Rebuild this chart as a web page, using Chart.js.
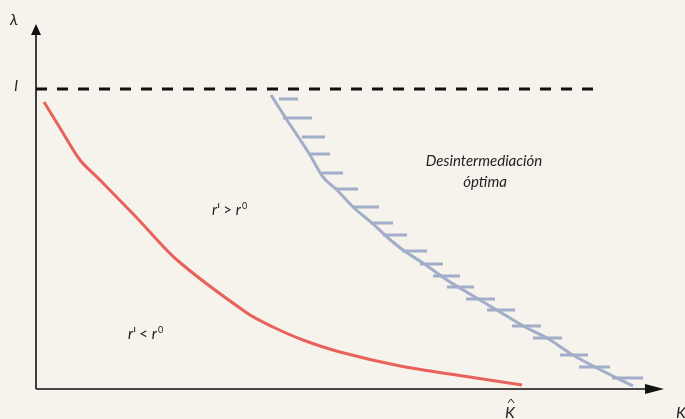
<!DOCTYPE html>
<html>
<head>
<meta charset="utf-8">
<script src="https://cdn.jsdelivr.net/npm/chart.js@4.4.1/dist/chart.umd.min.js"></script>
<style>
    html, body { margin: 0; padding: 0; background: #f6f3ec; }
    #wrap { width: 685px; height: 419px; }
</style>
</head>
<body>
<div id="wrap"><canvas id="chart" width="685" height="419"></canvas></div>
<script>
(function() {
    'use strict';

    // Curve values in axis units (origin at the axes corner, K to the right, lambda upward)
    var redK      = [8, 24, 44, 64, 101, 141, 211, 237, 267, 304, 364, 414, 486];
    var redLambda = [287, 261, 229, 209, 171, 129, 76, 62, 49, 37, 23, 15, 4];

    var blueK      = [235, 249, 274, 287, 301, 317, 336, 351, 367, 387, 411, 439, 464, 489, 511, 537, 561, 597];
    var blueLambda = [294, 272, 234, 212, 199, 182, 166, 152, 139, 126, 109, 92, 77, 62, 51, 34, 21, 3];

    // Hatch marks on the blue frontier: height, start and end
    var hatchLambda = [290, 271, 252, 235, 216, 200, 182, 166, 154, 138, 125, 113, 102, 90, 79, 63, 51, 34, 22, 11];
    var hatchFrom   = [243, 247, 266, 274, 286, 299, 317, 334, 347, 366, 384, 397, 411, 430, 451, 476, 497, 524, 543, 576];
    var hatchTo     = [262, 276, 289, 294, 307, 322, 343, 357, 371, 391, 407, 424, 438, 459, 479, 505, 526, 552, 574, 607];

    var limitLambda = 300;   // the dashed "l" level
    var limitEnd = 564;
    var kHat = 474;

    var hatchData = [];
    hatchLambda.forEach(function(y, i) {
        hatchData.push({ x: hatchFrom[i], y: y });
        hatchData.push({ x: hatchTo[i], y: y });
        hatchData.push({ x: hatchTo[i], y: null });
    });

    function pairs(xs, ys) {
        return xs.map(function(x, i) { return { x: x, y: ys[i] }; });
    }

    var ink = '#111111';
    var font = 'Lato, "Noto Sans", sans-serif';

    var decor = {
        id: 'decor',
        afterDatasetsDraw: function(chart) {
            var ctx = chart.ctx;
            var sx = chart.scales.x, sy = chart.scales.y;
            var ox = sx.getPixelForValue(0), oy = sy.getPixelForValue(0);

            ctx.save();
            // axes
            ctx.strokeStyle = ink;
            ctx.lineWidth = 1.6;
            ctx.beginPath();
            ctx.moveTo(ox, oy);
            ctx.lineTo(ox, 32);
            ctx.moveTo(ox, oy);
            ctx.lineTo(650, oy);
            ctx.stroke();

            ctx.fillStyle = ink;
            ctx.beginPath();
            ctx.moveTo(ox, 24);
            ctx.lineTo(ox - 5, 35);
            ctx.lineTo(ox + 5, 35);
            ctx.closePath();
            ctx.fill();

            ctx.beginPath();
            ctx.moveTo(664, oy);
            ctx.lineTo(645, oy - 5);
            ctx.lineTo(645, oy + 5);
            ctx.closePath();
            ctx.fill();

            // labels
            ctx.fillStyle = '#222222';
            ctx.textBaseline = 'alphabetic';
            ctx.textAlign = 'center';
            ctx.font = 'italic 16px ' + font;
            ctx.fillText('\u03bb', 14, 25);
            ctx.fillText('l', 16, 91);
            ctx.fillText('K', 681, 418);
            var kx = sx.getPixelForValue(kHat);
            ctx.fillText('K', kx, 418);
            ctx.strokeStyle = '#222222';
            ctx.lineWidth = 1;
            ctx.beginPath();
            ctx.moveTo(kx - 2, 403);
            ctx.lineTo(kx + 1, 399);
            ctx.lineTo(kx + 4, 403);
            ctx.stroke();

            ctx.font = 'italic 15px ' + font;
            ctx.fillText('Desintermediaci\u00f3n', 484, 166);
            ctx.fillText('\u00f3ptima', 485, 187);

            drawRel(ctx, '>', 212, 215);
            drawRel(ctx, '<', 128, 339);
            ctx.restore();
        }
    };

    function drawRel(ctx, op, x, y) {
        ctx.textAlign = 'left';
        ctx.font = 'italic 15px ' + font;
        ctx.fillText('r', x, y);
        var w = ctx.measureText('r').width;
        ctx.lineWidth = 1;
        ctx.beginPath();
        ctx.moveTo(x + w + 1.5, y - 12);
        ctx.lineTo(x + w + 1.5, y - 7);
        ctx.stroke();
        ctx.font = '15px ' + font;
        ctx.fillText(op, x + w + 6, y);
        var w2 = ctx.measureText(op).width;
        ctx.font = 'italic 15px ' + font;
        ctx.fillText('r', x + w + w2 + 10, y);
        ctx.font = '9px ' + font;
        ctx.fillText('0', x + 2 * w + w2 + 11, y - 6);
    }

    new Chart(document.getElementById('chart').getContext('2d'), {
        type: 'scatter',
        data: {
            datasets: [{
                data: [{ x: 0, y: limitLambda }, { x: limitEnd, y: limitLambda }],
                showLine: true,
                borderColor: ink,
                borderWidth: 3,
                borderDash: [11, 10],
                pointRadius: 0
            }, {
                data: pairs(redK, redLambda),
                showLine: true,
                borderColor: '#e8625c',
                borderWidth: 3,
                tension: 0.3,
                pointRadius: 0
            }, {
                data: hatchData,
                showLine: true,
                spanGaps: false,
                borderColor: '#a2adc9',
                borderWidth: 3,
                pointRadius: 0
            }, {
                data: pairs(blueK, blueLambda),
                showLine: true,
                borderColor: '#a2adc9',
                borderWidth: 3,
                cubicInterpolationMode: 'monotone',
                pointRadius: 0
            }]
        },
        options: {
            responsive: false,
            animation: false,
            clip: false,
            layout: { padding: 0 },
            plugins: {
                legend: { display: false },
                tooltip: { enabled: false }
            },
            scales: {
                x: { display: false, min: -36, max: 649 },
                y: { display: false, min: -30, max: 389 }
            }
        },
        plugins: [decor]
    });
})();
</script>
</body>
</html>
